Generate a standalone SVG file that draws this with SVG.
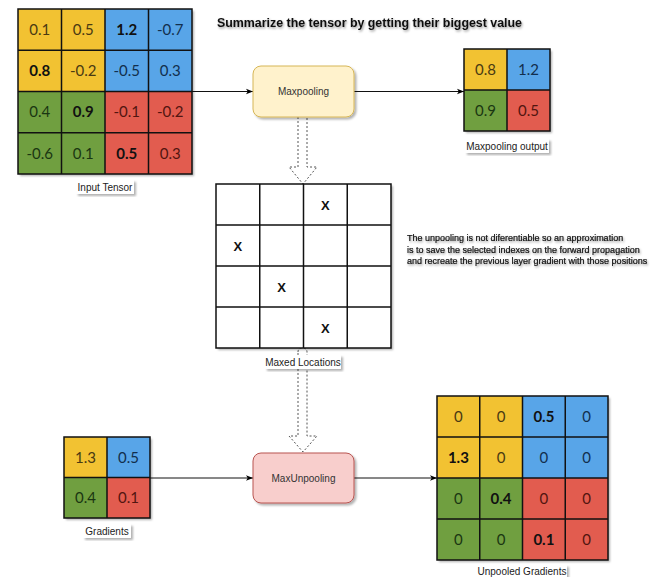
<svg xmlns="http://www.w3.org/2000/svg" width="653" height="577" viewBox="0 0 653 577">
<defs>
<filter id="sh" x="-10%" y="-10%" width="130%" height="130%">
<feDropShadow dx="2" dy="2" stdDeviation="1.2" flood-color="#000" flood-opacity="0.3"/>
</filter>
<filter id="tsh" x="-5%" y="-30%" width="110%" height="180%">
<feDropShadow dx="1" dy="1.5" stdDeviation="1" flood-color="#000" flood-opacity="0.4"/>
</filter>
<marker id="ah" viewBox="0 0 10 10" refX="10" refY="5" markerWidth="7" markerHeight="7" orient="auto" markerUnits="userSpaceOnUse">
<path d="M0,1 L10,5 L0,9 L2.5,5 Z" fill="#000"/>
</marker>
</defs>
<style>
.y{fill:#f2c232}
.b{fill:#58a5e8}
.g{fill:#6f9f3f}
.r{fill:#e25b50}
.gl{stroke:#111;stroke-width:1.5;fill:none}
.n{font-family:Lato,"Open Sans",sans-serif;font-size:15px;text-anchor:middle}
.ty{fill:#4a3a12}.tb{fill:#122f4d}.tg{fill:#1a3612}.tr{fill:#521510}
.bd{font-weight:bold;fill:#111}
.lbl{font-family:"Liberation Sans",Arial,sans-serif;font-size:10px;fill:#222;text-anchor:middle}
.lb{fill:#fff}
.box{font-family:"Liberation Sans",Arial,sans-serif;font-size:10px;fill:#333;text-anchor:middle}
.x{font-family:"Liberation Sans",Arial,sans-serif;font-size:13px;font-weight:bold;fill:#111;text-anchor:middle}
.conn{stroke:#111;stroke-width:1;fill:none}
.flex{stroke:#555;stroke-width:1;stroke-dasharray:2 2;fill:#fff}
.note{font-family:"Liberation Sans",Arial,sans-serif;font-size:9px;fill:#111;stroke:#111;stroke-width:0.2}
</style>

<g id="title" filter="url(#tsh)">
<text x="217" y="27" font-family="'Liberation Sans',Arial,sans-serif" font-size="12.4" font-weight="bold" fill="#111">Summarize the tensor by getting their biggest value</text>
</g>

<g id="connectors">
<line class="conn" x1="192" y1="91.5" x2="253" y2="91.5" marker-end="url(#ah)"/>
<line class="conn" x1="354" y1="91.5" x2="464" y2="91.5" marker-end="url(#ah)"/>
<line class="conn" x1="150" y1="478" x2="253" y2="478" marker-end="url(#ah)"/>
<line class="conn" x1="354" y1="478" x2="437" y2="478" marker-end="url(#ah)"/>
<path class="flex" d="M298,117 L298,167 L289,167 L303,184 L317,167 L307,167 L307,117"/>
<path class="flex" d="M298,352 Q298,348 302.5,348 Q307,348 307,352 L307,436 L317,436 L303,452 L289,436 L298,436 Z"/>
</g>

<g id="input-tensor">
<g filter="url(#sh)">
<rect class="y" x="18" y="9" width="87" height="82.5"/>
<rect class="b" x="105" y="9" width="87" height="82.5"/>
<rect class="g" x="18" y="91.5" width="87" height="82.5"/>
<rect class="r" x="105" y="91.5" width="87" height="82.5"/>
</g>
<path class="gl" d="M18,9 H192 V174 H18 Z M61.5,9 V174 M105,9 V174 M148.5,9 V174 M18,50.25 H192 M18,91.5 H192 M18,132.75 H192"/>
<text class="n ty" x="39.75" y="35">0.1</text>
<text class="n ty" x="83.25" y="35">0.5</text>
<text class="n bd" x="126.75" y="35">1.2</text>
<text class="n tb" x="170.25" y="35">-0.7</text>
<text class="n bd" x="39.75" y="76">0.8</text>
<text class="n ty" x="83.25" y="76">-0.2</text>
<text class="n tb" x="126.75" y="76">-0.5</text>
<text class="n tb" x="170.25" y="76">0.3</text>
<text class="n tg" x="39.75" y="117">0.4</text>
<text class="n bd" x="83.25" y="117">0.9</text>
<text class="n tr" x="126.75" y="117">-0.1</text>
<text class="n tr" x="170.25" y="117">-0.2</text>
<text class="n tg" x="39.75" y="158.5">-0.6</text>
<text class="n tg" x="83.25" y="158.5">0.1</text>
<text class="n bd" x="126.75" y="158.5">0.5</text>
<text class="n tr" x="170.25" y="158.5">0.3</text>
<rect class="lb" x="76" y="180" width="58" height="14" filter="url(#sh)"/>
<text class="lbl" x="105" y="190.5">Input Tensor</text>
</g>

<g id="maxpooling">
<rect x="253" y="66" width="101" height="51" rx="8" fill="#fff2cc" stroke="#d6b656" stroke-width="1" filter="url(#sh)"/>
<text class="box" x="303.5" y="95">Maxpooling</text>
</g>

<g id="maxpooling-output">
<g filter="url(#sh)">
<rect class="y" x="464" y="49" width="43" height="41"/>
<rect class="b" x="507" y="49" width="43" height="41"/>
<rect class="g" x="464" y="90" width="43" height="41"/>
<rect class="r" x="507" y="90" width="43" height="41"/>
</g>
<path class="gl" d="M464,49 H550 V131 H464 Z M507,49 V131 M464,90 H550"/>
<text class="n ty" x="485.5" y="74.5">0.8</text>
<text class="n tb" x="528.5" y="74.5">1.2</text>
<text class="n tg" x="485.5" y="115.5">0.9</text>
<text class="n tr" x="528.5" y="115.5">0.5</text>
<rect class="lb" x="465" y="139" width="84" height="14" filter="url(#sh)"/>
<text class="lbl" x="507" y="149.5">Maxpooling output</text>
</g>

<g id="maxed-locations">
<rect x="216" y="184" width="175" height="164" fill="#fff" filter="url(#sh)"/>
<path class="gl" d="M216,184 H391 V348 H216 Z M259.75,184 V348 M303.5,184 V348 M347.25,184 V348 M216,225 H391 M216,266 H391 M216,307 H391"/>
<text class="x" x="325.4" y="209.5">X</text>
<text class="x" x="237.9" y="250.5">X</text>
<text class="x" x="281.6" y="291.5">X</text>
<text class="x" x="325.4" y="332.5">X</text>
<rect class="lb" x="265" y="355" width="76" height="14" filter="url(#sh)"/>
<text class="lbl" x="303" y="365.5">Maxed Locations</text>
</g>

<g id="note" filter="url(#tsh)">
<text class="note" x="407" y="241">The unpooling is not diferentiable so an approximation</text>
<text class="note" x="407" y="252.5">is to save the selected indexes on the forward propagation</text>
<text class="note" x="407" y="264">and recreate the previous layer gradient with those positions</text>
</g>

<g id="gradients">
<g filter="url(#sh)">
<rect class="y" x="64" y="437" width="43" height="40.5"/>
<rect class="b" x="107" y="437" width="43" height="40.5"/>
<rect class="g" x="64" y="477.5" width="43" height="40.5"/>
<rect class="r" x="107" y="477.5" width="43" height="40.5"/>
</g>
<path class="gl" d="M64,437 H150 V518 H64 Z M107,437 V518 M64,477.5 H150"/>
<text class="n ty" x="85.5" y="462.5">1.3</text>
<text class="n tb" x="128.5" y="462.5">0.5</text>
<text class="n tg" x="85.5" y="503">0.4</text>
<text class="n tr" x="128.5" y="503">0.1</text>
<rect class="lb" x="83" y="524" width="48" height="14" filter="url(#sh)"/>
<text class="lbl" x="107" y="534.5">Gradients</text>
</g>

<g id="maxunpooling">
<rect x="253" y="453" width="101" height="50" rx="8" fill="#f8cecc" stroke="#b85450" stroke-width="1" filter="url(#sh)"/>
<text class="box" x="303.5" y="481.5">MaxUnpooling</text>
</g>

<g id="unpooled-gradients">
<g filter="url(#sh)">
<rect class="y" x="437" y="396" width="85.5" height="82"/>
<rect class="b" x="522.5" y="396" width="85.5" height="82"/>
<rect class="g" x="437" y="478" width="85.5" height="82"/>
<rect class="r" x="522.5" y="478" width="85.5" height="82"/>
</g>
<path class="gl" d="M437,396 H608 V560 H437 Z M479.75,396 V560 M522.5,396 V560 M565.25,396 V560 M437,437 H608 M437,478 H608 M437,519 H608"/>
<text class="n ty" x="458.4" y="422">0</text>
<text class="n ty" x="501.1" y="422">0</text>
<text class="n bd" x="543.9" y="422">0.5</text>
<text class="n tb" x="586.6" y="422">0</text>
<text class="n bd" x="458.4" y="463">1.3</text>
<text class="n ty" x="501.1" y="463">0</text>
<text class="n tb" x="543.9" y="463">0</text>
<text class="n tb" x="586.6" y="463">0</text>
<text class="n tg" x="458.4" y="504">0</text>
<text class="n bd" x="501.1" y="504">0.4</text>
<text class="n tr" x="543.9" y="504">0</text>
<text class="n tr" x="586.6" y="504">0</text>
<text class="n tg" x="458.4" y="545">0</text>
<text class="n tg" x="501.1" y="545">0</text>
<text class="n bd" x="543.9" y="545">0.1</text>
<text class="n tr" x="586.6" y="545">0</text>
<rect class="lb" x="477" y="565" width="90" height="12" filter="url(#sh)"/>
<text class="lbl" x="522" y="575">Unpooled Gradients</text>
</g>
</svg>
